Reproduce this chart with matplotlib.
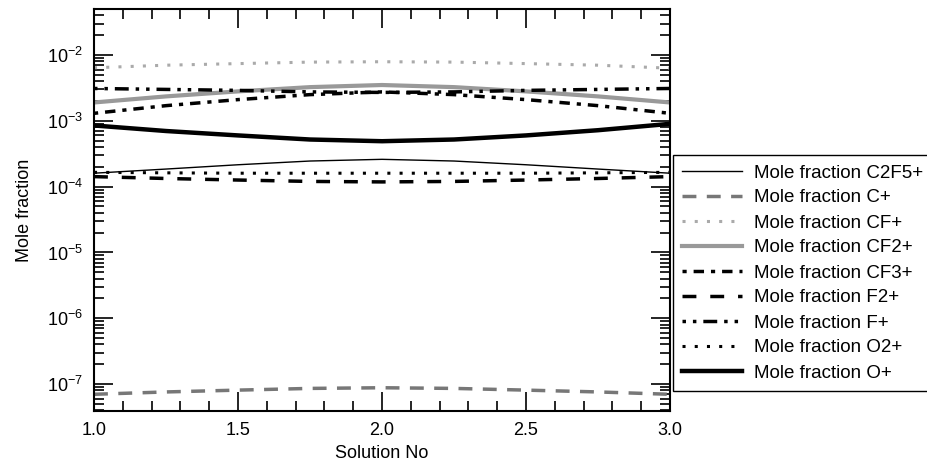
import matplotlib
matplotlib.use("Agg")
import matplotlib.pyplot as plt
from matplotlib.ticker import MultipleLocator, LogLocator, FixedLocator

plt.rcParams['font.family'] = ['Liberation Sans', 'DejaVu Sans']
plt.rcParams['mathtext.fontset'] = 'custom'
plt.rcParams['mathtext.rm'] = 'Liberation Sans'
plt.rcParams['mathtext.it'] = 'Liberation Sans'

# solution number
x = [1.0, 1.25, 1.5, 1.75, 2.0, 2.25, 2.5, 2.75, 3.0]

# mole fractions
c2f5 = [1.6e-4, 1.85e-4, 2.15e-4, 2.45e-4, 2.6e-4, 2.45e-4, 2.15e-4, 1.85e-4, 1.6e-4]
c_p = [7.0e-8, 7.6e-8, 8.1e-8, 8.6e-8, 8.8e-8, 8.6e-8, 8.1e-8, 7.6e-8, 7.0e-8]
cf = [6.4e-3, 7.0e-3, 7.4e-3, 7.8e-3, 7.9e-3, 7.8e-3, 7.4e-3, 7.0e-3, 6.3e-3]
cf2 = [1.9e-3, 2.35e-3, 2.8e-3, 3.25e-3, 3.5e-3, 3.25e-3, 2.8e-3, 2.35e-3, 1.9e-3]
cf3 = [1.3e-3, 1.7e-3, 2.1e-3, 2.5e-3, 2.75e-3, 2.5e-3, 2.1e-3, 1.7e-3, 1.3e-3]
f2 = [1.42e-4, 1.33e-4, 1.26e-4, 1.2e-4, 1.18e-4, 1.2e-4, 1.26e-4, 1.33e-4, 1.42e-4]
f_p = [3.1e-3, 3.0e-3, 2.9e-3, 2.75e-3, 2.7e-3, 2.75e-3, 2.9e-3, 3.0e-3, 3.1e-3]
o2 = [1.65e-4, 1.62e-4, 1.6e-4, 1.6e-4, 1.6e-4, 1.6e-4, 1.6e-4, 1.62e-4, 1.65e-4]
o_p = [8.5e-4, 7.0e-4, 6.0e-4, 5.2e-4, 4.9e-4, 5.2e-4, 6.0e-4, 7.2e-4, 9.0e-4]

y_major = [1e-7, 1e-6, 1e-5, 1e-4, 1e-3, 1e-2]

fig = plt.figure(figsize=(9.28, 4.66), dpi=100)
ax = fig.add_axes([0.1013, 0.118, 0.6207, 0.8627])

ax.plot(x, c2f5, color="black", lw=1.0, label="Mole fraction C2F5+")
ax.plot(x, c_p, color="#777777", lw=2.5, dashes=(4, 3), label="Mole fraction C+")
ax.plot(x, cf, color="#aaaaaa", lw=2.2, dashes=(1, 3), label="Mole fraction CF+")
ax.plot(x, cf2, color="#999999", lw=3.0, label="Mole fraction CF2+")
ax.plot(x, cf3, color="black", lw=2.5, dashes=(1.2, 2, 3, 2), label="Mole fraction CF3+")
ax.plot(x, f2, color="black", lw=2.5, dashes=(4, 4), label="Mole fraction F2+")
ax.plot(x, f_p, color="black", lw=2.5, dashes=(1, 2, 1, 2, 4, 2), label="Mole fraction F+")
ax.plot(x, o2, color="black", lw=2.2, dashes=(1, 3), label="Mole fraction O2+")
ax.plot(x, o_p, color="black", lw=3.2, label="Mole fraction O+")

ax.set_yscale("log")
ax.set_xlim(1.0, 3.0)
ax.set_ylim(3.9e-8, 5e-2)
ax.xaxis.set_major_locator(MultipleLocator(0.5))
ax.xaxis.set_minor_locator(MultipleLocator(0.1))
ax.xaxis.set_major_formatter(matplotlib.ticker.FormatStrFormatter("%.1f"))
ax.yaxis.set_major_locator(FixedLocator(y_major))
ax.yaxis.set_minor_locator(LogLocator(base=10, subs=range(2, 10), numticks=20))
ax.yaxis.set_minor_formatter(matplotlib.ticker.NullFormatter())

ax.tick_params(which="both", direction="in", top=True, right=True, width=1.2, labelsize=13, colors="black")
ax.tick_params(which="major", length=14, pad=8)
ax.tick_params(which="minor", length=7)
for s in ax.spines.values():
    s.set_linewidth(1.5)

ax.set_xlabel("Solution No", fontsize=13, labelpad=4)
ax.set_ylabel("Mole fraction", fontsize=13, labelpad=10)

fig.legend(loc="upper left", bbox_to_anchor=(673 / 928, 1 - 155 / 466), fontsize=13.5,
           frameon=True, fancybox=False, edgecolor="black", framealpha=1,
           handlelength=3.2, labelspacing=0.42, borderpad=0.5, handletextpad=0.6,
           borderaxespad=0)

fig.savefig("out.png", dpi=100)
